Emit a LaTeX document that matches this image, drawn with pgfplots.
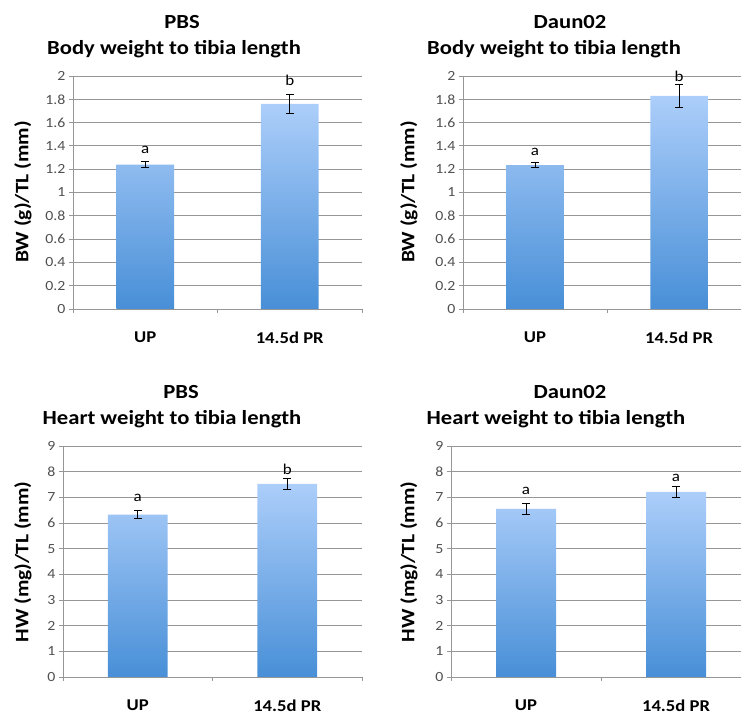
\documentclass[border=0pt]{standalone}
\usepackage{fontspec}
\setmainfont{Carlito}[FakeStretch=1.13]
\usepackage{pgfplots}
\pgfplotsset{compat=1.18}
\definecolor{bartop}{RGB}{172,206,250}
\definecolor{barbot}{RGB}{72,143,215}
\definecolor{gridc}{RGB}{150,150,150}
\definecolor{tickc}{RGB}{80,80,80}
\pgfplotsset{
  panel/.style={
    scale only axis,
    ybar,
    bar width=0.4,
    xmin=-0.5,
    axis x line*=bottom,
    axis y line*=left,
    axis line style={gridc, line width=0.8pt, -},
    tick align=outside,
    major tick length=4pt,
    tick style={gridc, line width=0.8pt},
    xtick={-0.5,0.5,1.5},
    xticklabels={},
    extra x ticks={0,1},
    extra x tick labels={UP,14.5d PR},
    extra x tick style={major tick length=0pt, grid=none,
      xticklabel style={font=\bfseries\fontsize{16.5}{20}\selectfont, text=black, yshift=-19pt}},
    ymajorgrids,
    grid style={gridc, line width=0.8pt},
    yticklabel style={font=\fontsize{14}{16}\selectfont, text=tickc},
    /pgf/number format/assume math mode=true,
    clip=false,
  },
  shadedbar/.style={draw=none, top color=bartop, bottom color=barbot,
    error bars/.cd, y dir=both, y explicit,
    error bar style={draw=black, line width=0.8pt},
    error mark options={draw=black, rotate=90, mark size=4pt, line width=0.8pt}},
}
\newcommand{\ttl}[3]{\node[anchor=base, font=\bfseries\fontsize{20}{24}\selectfont] at (#1pt,#2pt) {#3};}
\newcommand{\ylab}[3]{\node[rotate=90, font=\bfseries\fontsize{19}{22}\selectfont] at (#1pt,#2pt) {#3};}
\newcommand{\lt}{\fontsize{15}{18}\selectfont}
\begin{document}
\begin{tikzpicture}
\path[use as bounding box] (0pt,0pt) rectangle (741pt,717pt);
% Top-left
\begin{axis}[panel, at={(73pt,408pt)}, anchor=south west, width=289pt, height=233pt,
  xmax=1.5, ymin=0, ymax=2, ytick={0,0.2,0.4,0.6,0.8,1,1.2,1.4,1.6,1.8,2}]
\addplot[shadedbar] coordinates {(0,1.24) +- (0,0.025) (1,1.76) +- (0,0.08)};
\node[font=\lt] at (axis cs:0,1.365) {a};
\node[font=\lt] at (axis cs:1,1.96) {b};
\end{axis}
% Top-right
\begin{axis}[panel, at={(463pt,408pt)}, anchor=south west, width=278pt, height=233pt,
  xmax=1.43, ymin=0, ymax=2, ytick={0,0.2,0.4,0.6,0.8,1,1.2,1.4,1.6,1.8,2}]
\addplot[shadedbar] coordinates {(0,1.235) +- (0,0.02) (1,1.83) +- (0,0.10)};
\node[font=\lt] at (axis cs:0,1.35) {a};
\node[font=\lt] at (axis cs:1,2.0) {b};
\end{axis}
% Bottom-left
\begin{axis}[panel, at={(63pt,40pt)}, anchor=south west, width=299pt, height=231pt,
  xmax=1.5, ymin=0, ymax=9, ytick={0,1,2,3,4,5,6,7,8,9}]
\addplot[shadedbar] coordinates {(0,6.33) +- (0,0.15) (1,7.52) +- (0,0.2)};
\node[font=\lt] at (axis cs:0,6.96) {a};
\node[font=\lt] at (axis cs:1,8.1) {b};
\end{axis}
% Bottom-right
\begin{axis}[panel, at={(451pt,40pt)}, anchor=south west, width=290pt, height=231pt,
  xmax=1.433, ymin=0, ymax=9, ytick={0,1,2,3,4,5,6,7,8,9}]
\addplot[shadedbar] coordinates {(0,6.55) +- (0,0.22) (1,7.21) +- (0,0.23)};
\node[font=\lt] at (axis cs:0,7.26) {a};
\node[font=\lt] at (axis cs:1,7.77) {a};
\end{axis}
% titles
\ttl{182}{688}{PBS}
\ttl{174}{662}{Body weight to tibia length}
\ttl{570}{688}{Daun02}
\ttl{554}{662}{Body weight to tibia length}
\ttl{181}{318}{PBS}
\ttl{172}{292}{Heart weight to tibia length}
\ttl{570}{318}{Daun02}
\ttl{556}{292}{Heart weight to tibia length}
% y labels
\ylab{23}{525}{BW (g)/TL (mm)}
\ylab{409}{525}{BW (g)/TL (mm)}
\ylab{23}{155}{HW (mg)/TL (mm)}
\ylab{409}{155}{HW (mg)/TL (mm)}
\end{tikzpicture}
\end{document}
